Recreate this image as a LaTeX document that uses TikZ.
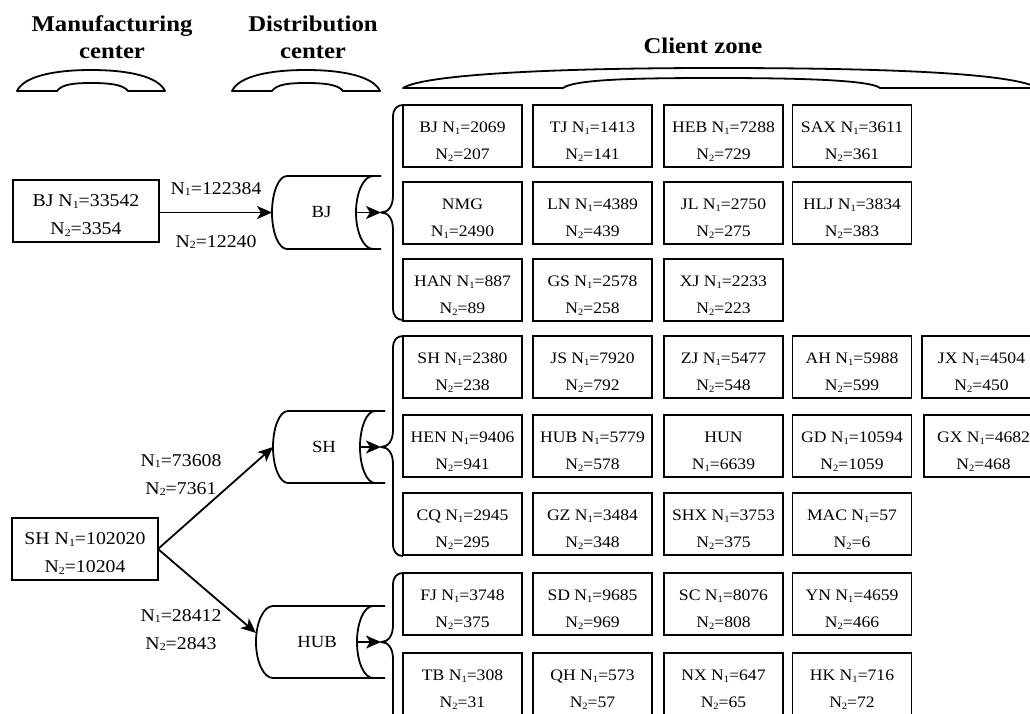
\documentclass[tikz,border=0pt]{standalone}
\usepackage{fontspec}
\setmainfont{Liberation Serif}[FakeStretch=1.1]
\usetikzlibrary{arrows.meta}

% N with a small numeric index
\newcommand\Ns[1]{N\raisebox{-0.1em}{\scalebox{0.6}{#1}}}
% two centred lines, the block lowered a little inside its frame
\newcommand\twol[3][1.34em]{\rule{0pt}{#1}#2\\#3}

% horizontal drum: #1 left bulge x, #2 left corner x, #3 inner arc x,
% #4 inner arc corner x, #5 line end x, #6 top y, #7 bottom y
\newcommand\drumoutline[7]{%
  \pgfmathsetmacro\drmid{(#6+#7)/2}%
  \pgfmathsetmacro\drla{#2-0.552*(#2-#1)}%
  \pgfmathsetmacro\drra{#4-0.552*(#4-#3)}%
  \pgfmathsetmacro\drup{\drmid-0.552*(\drmid-#6)}%
  \pgfmathsetmacro\drdn{\drmid+0.552*(#7-\drmid)}%
  \draw[outline] (#5,#6) -- (#2,#6) .. controls (\drla,#6) and (#1,\drup) .. (#1,\drmid)
     .. controls (#1,\drdn) and (\drla,#7) .. (#2,#7) -- (#5,#7);
  \draw[outline] (#4,#6) .. controls (\drra,#6) and (#3,\drup) .. (#3,\drmid)
     .. controls (#3,\drdn) and (\drra,#7) .. (#4,#7);
}

% curly brace opening to the right: #1 top y, #2 tip y, #3 bottom y, #4 tip name
\newcommand\groupbrace[4]{%
  \draw[outline] (403,#1) .. controls (397,#1) and (393,{#1+4}) .. (393,{#1+12})
     -- (393,{#2-17}) .. controls (393,{#2-6}) and (388,#2) .. (381,#2)
     .. controls (388,#2) and (393,{#2+6}) .. (393,{#2+17})
     -- (393,{#3-12}) .. controls (393,{#3-4}) and (397,#3) .. (403,#3);
  \coordinate (#4) at (381,#2);
}

% small header cap, shifted horizontally by #1
\newcommand\smallcap[1]{%
  \draw[outline, xshift=#1] (17,91) .. controls (24,76) and (55,70) .. (91,70)
     .. controls (127,70) and (158,76) .. (165,91) -- (128,91)
     .. controls (123,84) and (107,83) .. (91,83)
     .. controls (75,83) and (62,84) .. (57,91) -- cycle;
}

\begin{document}
\begin{tikzpicture}[x=1pt, y=-1pt,
  every node/.style={inner sep=0pt, outer sep=0pt},
  outline/.style={line width=1.8pt, line join=round},
  client/.style={draw, line width=1.8pt, minimum width=119pt, minimum height=62pt,
    align=center, font=\fontsize{16}{27}\selectfont},
  origin/.style={draw, line width=1.8pt, minimum width=146pt, minimum height=62pt,
    align=center, font=\fontsize{18}{28}\selectfont},
  drum/.style={minimum height=73pt, font=\fontsize{17}{20}\selectfont},
  head/.style={align=center, font=\fontsize{22.5}{27}\selectfont\bfseries},
  qty/.style={align=center, font=\fontsize{18}{28}\selectfont},
  flow/.style={line width=1.8pt, -{Stealth[length=15pt, width=13pt, inset=4pt]}},
]
\useasboundingbox (0,0) rectangle (1030,713);
\clip (0,0) rectangle (1030,713);

% ---- headers ----
\node[head] (hman)  at (112,37) {Manufacturing\\center};
\node[head] (hdist) at (313,37) {Distribution\\center};
\node[head] (hcli)  at (703,46) {Client zone};
\smallcap{0pt}
\smallcap{215pt}
\draw[outline] (403,88) .. controls (425,74) and (560,68) .. (715,68)
   .. controls (870,68) and (1010,72) .. (1038,88) -- (880,88)
   .. controls (870,80) and (800,78) .. (715,78)
   .. controls (640,78) and (575,79) .. (563,88) -- cycle;

% ---- manufacturing centers ----
\node[origin] (mbj) at (86,211) {\twol[1.2em]{BJ \Ns{1}=33542}{\Ns{2}=3354}};
\node[origin] (msh) at (85,549) {\twol[1.2em]{SH \Ns{1}=102020}{\Ns{2}=10204}};

% ---- distribution centers ----
\drumoutline{272}{287}{356}{373}{381}{176}{249}
\node[drum, minimum width=109pt] (dbj) at (326.5,212.5) {\hspace*{-10pt}BJ};
\coordinate (dbjout) at (356,212.5);
\drumoutline{273}{288}{360}{375}{385}{411}{483}
\node[drum, minimum width=112pt] (dsh) at (329,447) {\hspace*{-10pt}SH};
\coordinate (dshout) at (360,447);
\drumoutline{256}{273}{357}{373}{385}{606}{678}
\node[drum, minimum width=129pt] (dhub) at (320.5,642) {\hspace*{-7pt}HUB};
\coordinate (dhubout) at (357,642);

% ---- flows from manufacturing to distribution ----
\draw[flow] (mbj.east |- dbj.west) -- (dbj.west);
\node[qty] (qbj1) at (216,189) {\Ns{1}=122384};
\node[qty] (qbj2) at (216,242) {\Ns{2}=12240};
\draw[flow] (msh.east) -- (dsh.west);
\node[qty] (qsh) at (181,475) {\Ns{1}=73608\\\Ns{2}=7361};
\draw[flow] (msh.east) -- (dhub.172);
\node[qty] (qhub) at (181,630) {\Ns{1}=28412\\\Ns{2}=2843};

% ---- braces to the client zones ----
\groupbrace{105}{212.5}{320}{tbj}
\groupbrace{336}{447}{556}{tsh}
\groupbrace{573}{642}{730}{thub}
\draw[flow] (dbjout) -- (tbj);
\draw[flow] (dshout) -- (tsh);
\draw[flow] (dhubout) -- (thub);

% ---- clients served from BJ ----
\node[client] (c11) at (462.5,136) {\twol{BJ \Ns{1}=2069}{\Ns{2}=207}};
\node[client] (c12) at (592.5,136) {\twol{TJ \Ns{1}=1413}{\Ns{2}=141}};
\node[client] (c13) at (723.5,136) {\twol{HEB \Ns{1}=7288}{\Ns{2}=729}};
\node[client] (c14) at (852,136)   {\twol{SAX \Ns{1}=3611}{\Ns{2}=361}};
\node[client] (c21) at (462.5,213) {\twol{NMG}{\Ns{1}=2490}};
\node[client] (c22) at (592.5,213) {\twol{LN \Ns{1}=4389}{\Ns{2}=439}};
\node[client] (c23) at (723.5,213) {\twol{JL \Ns{1}=2750}{\Ns{2}=275}};
\node[client] (c24) at (852,213)   {\twol{HLJ \Ns{1}=3834}{\Ns{2}=383}};
\node[client] (c31) at (462.5,290) {\twol{HAN \Ns{1}=887}{\Ns{2}=89}};
\node[client] (c32) at (592.5,290) {\twol{GS \Ns{1}=2578}{\Ns{2}=258}};
\node[client] (c33) at (723.5,290) {\twol{XJ \Ns{1}=2233}{\Ns{2}=223}};

% ---- clients served from SH ----
\node[client] (s11) at (462.5,367) {\twol{SH \Ns{1}=2380}{\Ns{2}=238}};
\node[client] (s12) at (592.5,367) {\twol{JS \Ns{1}=7920}{\Ns{2}=792}};
\node[client] (s13) at (723.5,367) {\twol{ZJ \Ns{1}=5477}{\Ns{2}=548}};
\node[client] (s14) at (852,367)   {\twol{AH \Ns{1}=5988}{\Ns{2}=599}};
\node[client] (s15) at (981.5,367) {\twol{JX \Ns{1}=4504}{\Ns{2}=450}};
\node[client] (s21) at (462.5,446) {\twol{HEN \Ns{1}=9406}{\Ns{2}=941}};
\node[client] (s22) at (592.5,446) {\twol{HUB \Ns{1}=5779}{\Ns{2}=578}};
\node[client] (s23) at (723.5,446) {\twol{HUN}{\Ns{1}=6639}};
\node[client] (s24) at (852,446)   {\twol{GD \Ns{1}=10594}{\Ns{2}=1059}};
\node[client] (s25) at (983.5,446) {\twol{GX \Ns{1}=4682}{\Ns{2}=468}};
\node[client] (s31) at (462.5,524) {\twol{CQ \Ns{1}=2945}{\Ns{2}=295}};
\node[client] (s32) at (592.5,524) {\twol{GZ \Ns{1}=3484}{\Ns{2}=348}};
\node[client] (s33) at (723.5,524) {\twol{SHX \Ns{1}=3753}{\Ns{2}=375}};
\node[client] (s34) at (852,524)   {\twol{MAC \Ns{1}=57}{\Ns{2}=6}};

% ---- clients served from HUB ----
\node[client] (h11) at (462.5,604) {\twol{FJ \Ns{1}=3748}{\Ns{2}=375}};
\node[client] (h12) at (592.5,604) {\twol{SD \Ns{1}=9685}{\Ns{2}=969}};
\node[client] (h13) at (723.5,604) {\twol{SC \Ns{1}=8076}{\Ns{2}=808}};
\node[client] (h14) at (852,604)   {\twol{YN \Ns{1}=4659}{\Ns{2}=466}};
\node[client] (h21) at (462.5,684) {\twol{TB \Ns{1}=308}{\Ns{2}=31}};
\node[client] (h22) at (592.5,684) {\twol{QH \Ns{1}=573}{\Ns{2}=57}};
\node[client] (h23) at (723.5,684) {\twol{NX \Ns{1}=647}{\Ns{2}=65}};
\node[client] (h24) at (852,684)   {\twol{HK \Ns{1}=716}{\Ns{2}=72}};
\end{tikzpicture}
\end{document}
